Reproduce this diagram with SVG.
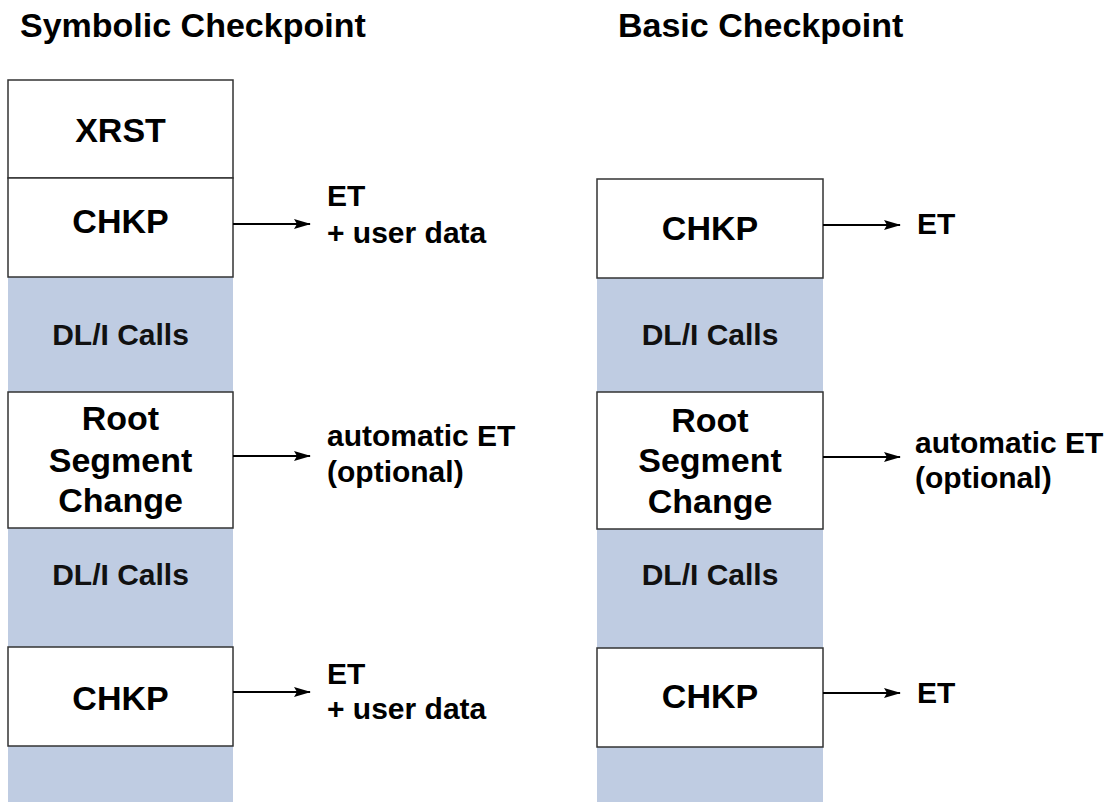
<svg xmlns="http://www.w3.org/2000/svg" width="1117" height="802" viewBox="0 0 1117 802">
  <style>
    text { font-family: "Liberation Sans", Arial, sans-serif; fill: #000; font-weight: bold; }
    .title { font-size: 34px; }
    .box { fill: #fff; stroke: #333; stroke-width: 1.5; }
    .blue { fill: #BFCCE2; stroke: none; }
    .lbl { font-size: 34px; text-anchor: middle; }
    .dl { font-size: 30px; text-anchor: middle; fill: #111; }
    .side { font-size: 30px; }
    .conn { stroke: #000; stroke-width: 2; fill: none; marker-end: url(#ah); }
  </style>
  <defs>
    <marker id="ah" markerWidth="17" markerHeight="11" refX="16" refY="5.5" orient="auto" markerUnits="userSpaceOnUse">
      <path d="M0,0.5 L17,5.5 L0,10.5 L3,5.5 z" fill="#000"/>
    </marker>
  </defs>
  <rect width="1117" height="802" fill="#fff"/>

  <g id="titles">
    <text class="title" x="20" y="37">Symbolic Checkpoint</text>
    <text class="title" x="618" y="37">Basic Checkpoint</text>
  </g>

  <!-- Left column -->
  <g id="left-dli-1"><rect class="blue" x="8" y="277" width="225" height="115"/><text class="dl" x="120.5" y="345">DL/I Calls</text></g>
  <g id="left-dli-2"><rect class="blue" x="8" y="528" width="225" height="119"/><text class="dl" x="120.5" y="585">DL/I Calls</text></g>
  <g id="left-dli-3"><rect class="blue" x="8" y="746" width="225" height="56"/></g>
  <g id="left-xrst"><rect class="box" x="8" y="80" width="225" height="98"/><text class="lbl" x="120.5" y="142">XRST</text></g>
  <g id="left-chkp-1"><rect class="box" x="8" y="178" width="225" height="99"/><text class="lbl" x="120.5" y="233">CHKP</text></g>
  <g id="left-root"><rect class="box" x="8" y="392" width="225" height="136"/>
    <text class="lbl" x="120.5" y="430">Root</text>
    <text class="lbl" x="120.5" y="472">Segment</text>
    <text class="lbl" x="120.5" y="512">Change</text>
  </g>
  <g id="left-chkp-2"><rect class="box" x="8" y="647" width="225" height="99"/><text class="lbl" x="120.5" y="710">CHKP</text></g>

  <!-- Right column -->
  <g id="right-dli-1"><rect class="blue" x="597" y="278" width="226" height="114"/><text class="dl" x="710" y="345">DL/I Calls</text></g>
  <g id="right-dli-2"><rect class="blue" x="597" y="529" width="226" height="119"/><text class="dl" x="710" y="585">DL/I Calls</text></g>
  <g id="right-dli-3"><rect class="blue" x="597" y="747" width="226" height="55"/></g>
  <g id="right-chkp-1"><rect class="box" x="597" y="179" width="226" height="99"/><text class="lbl" x="710" y="240">CHKP</text></g>
  <g id="right-root"><rect class="box" x="597" y="392" width="226" height="137"/>
    <text class="lbl" x="710" y="432">Root</text>
    <text class="lbl" x="710" y="472">Segment</text>
    <text class="lbl" x="710" y="513">Change</text>
  </g>
  <g id="right-chkp-2"><rect class="box" x="597" y="648" width="226" height="99"/><text class="lbl" x="710" y="708">CHKP</text></g>

  <!-- Side labels -->
  <g id="label-l1"><text class="side" x="327" y="206">ET</text><text class="side" x="327" y="243">+ user data</text></g>
  <g id="label-l2"><text class="side" x="327" y="446">automatic ET</text><text class="side" x="327" y="482">(optional)</text></g>
  <g id="label-l3"><text class="side" x="327" y="684">ET</text><text class="side" x="327" y="719">+ user data</text></g>
  <g id="label-r1"><text class="side" x="917" y="234">ET</text></g>
  <g id="label-r2"><text class="side" x="915" y="453">automatic ET</text><text class="side" x="915" y="488">(optional)</text></g>
  <g id="label-r3"><text class="side" x="917" y="703">ET</text></g>

  <g id="connectors">
    <line class="conn" x1="233" y1="224" x2="310" y2="224"/>
    <line class="conn" x1="233" y1="456" x2="310" y2="456"/>
    <line class="conn" x1="233" y1="692" x2="310" y2="692"/>
    <line class="conn" x1="823" y1="225" x2="900" y2="225"/>
    <line class="conn" x1="823" y1="457" x2="900" y2="457"/>
    <line class="conn" x1="823" y1="693" x2="900" y2="693"/>
  </g>
</svg>
